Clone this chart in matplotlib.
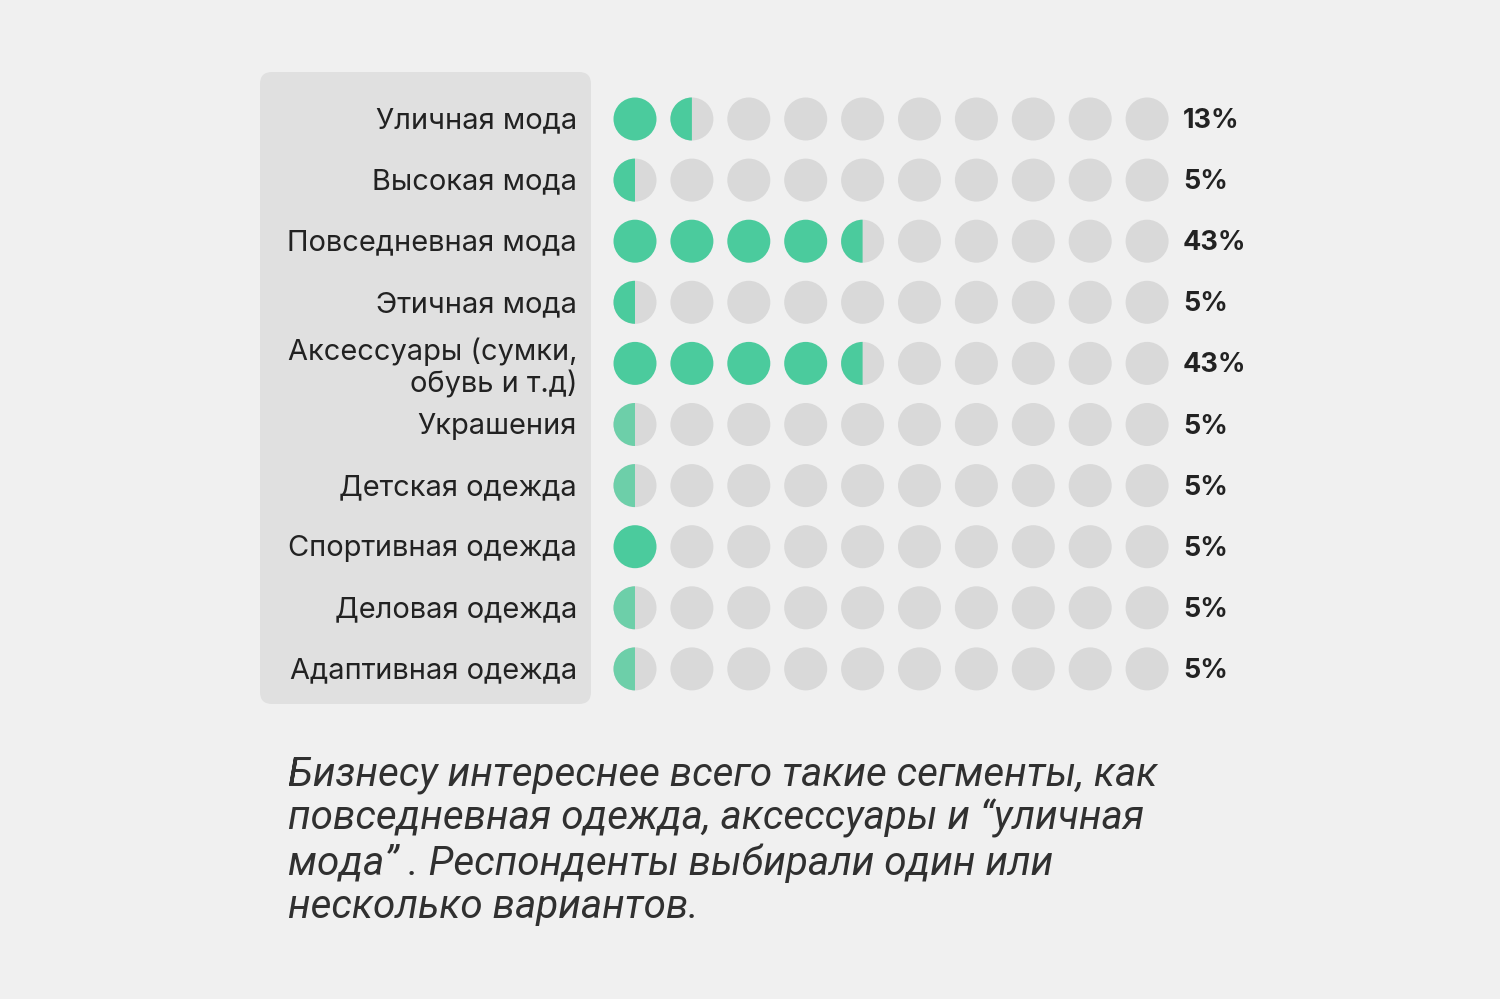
import matplotlib.pyplot as plt
from matplotlib.patches import Circle, Wedge, FancyBboxPatch

# data
labels = ['Уличная мода', 'Высокая мода', 'Повседневная мода', 'Этичная мода',
          'Аксессуары (сумки,\nобувь и т.д)', 'Украшения', 'Детская одежда',
          'Спортивная одежда', 'Деловая одежда', 'Адаптивная одежда']
percents = ['13%', '5%', '43%', '5%', '43%', '5%', '5%', '5%', '5%', '5%']
filled = [1.5, 0.5, 4.5, 0.5, 4.5, 0.5, 0.5, 1, 0.5, 0.5]
light = [False, False, False, False, False, True, True, False, True, True]
caption = ('Бизнесу интереснее всего такие сегменты, как\n'
           'повседневная одежда, аксессуары и “уличная\n'
           'мода” . Респонденты выбирали один или\n'
           'несколько вариантов.')

bg = '#F0F0F0'
green = '#4BCB9D'
green_light = '#6DCFA9'
grey = '#D9D9D9'

plt.rcParams['font.family'] = ['Inter', 'DejaVu Sans']

fig = plt.figure(figsize=(15, 9.99), dpi=100, facecolor=bg)
ax = fig.add_axes([0, 0, 1, 1])
ax.set_xlim(0, 1500)
ax.set_ylim(999, 0)
ax.set_aspect('equal')
ax.axis('off')

# grey panel behind labels
ax.add_patch(FancyBboxPatch((272, 84), 307, 608, boxstyle='round,pad=12',
                            fc='#E0E0E0', ec='none'))

x0, dx = 635, 56.9
y0, dy = 119, 61.1
r = 21.5

for i, lab in enumerate(labels):
    y = y0 + i * dy
    col = green_light if light[i] else green
    for j in range(10):
        x = x0 + j * dx
        f = filled[i] - j
        if f >= 1:
            ax.add_patch(Circle((x, y), r, fc=col, ec='none'))
        elif f > 0:
            ax.add_patch(Circle((x, y), r, fc=grey, ec='none'))
            ax.add_patch(Wedge((x, y), r, 90, 270, fc=col, ec='none'))
        else:
            ax.add_patch(Circle((x, y), r, fc=grey, ec='none'))
    dy_lab = 5 if '\n' in lab else 2
    ax.text(577, y + dy_lab, lab, ha='right', va='center', fontsize=20.9,
            color='#222222', linespacing=1.2)
    ax.text(1183, y + 2, percents[i], ha='left', va='center', fontsize=19.5,
            fontweight='bold', color='#222222')

ax.text(288, 755, caption, ha='left', va='top', fontsize=29.1,
        style='italic', color='#303030', linespacing=1.17,
        family=['Roboto', 'DejaVu Sans'])

fig.savefig('out.png', dpi=100, facecolor=bg)
